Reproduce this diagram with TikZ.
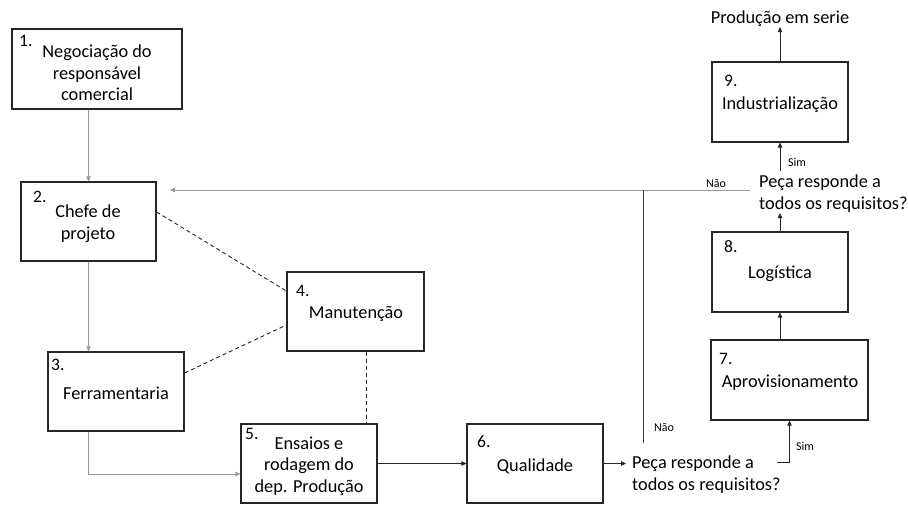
\documentclass[tikz,border=0pt]{standalone}
\usepackage{fontspec}
\setmainfont{Carlito}
\usetikzlibrary{arrows.meta}
\begin{document}
\begin{tikzpicture}[x=1pt,y=-1pt,
  box/.style={draw=black!85, line width=1.2pt, minimum width=136pt, minimum height=79pt, inner sep=0pt},
  num/.style={anchor=base west, inner sep=0pt, font=\fontsize{17.5}{20}\selectfont},
  lbl/.style={inner sep=0pt, align=center, font=\fontsize{18.3}{21.5}\selectfont},
  ask/.style={inner sep=0pt, align=left, anchor=west, font=\fontsize{18.3}{22}\selectfont},
  tag/.style={inner sep=0pt, font=\fontsize{12}{14}\selectfont},
  arr/.style={-{Triangle[length=5pt,width=4.5pt]}, line width=0.8pt, draw=black!85},
  garr/.style={arr, draw=black!40},
  dotline/.style={dashed, dash pattern=on 4pt off 3pt, line width=0.9pt, draw=black!85}
]
\useasboundingbox (0,0) rectangle (908,505);

% boxes
\node[box, minimum width=170pt, minimum height=80pt] (n1) at (97,69) {};
\node[num] (d1) at (19,47) {1.};
\node[lbl] (t1) at (97,73) {Negociação do\\responsável\\comercial};

\node[box, minimum width=135pt] (n2) at (88.5,221.5) {};
\node[num] (d2) at (33,203) {2.};
\node[lbl] (t2) at (88,223.5) {Chefe de\\projeto};

\node[box] (n3) at (116,391.5) {};
\node[num] (d3) at (51,370) {3.};
\node[lbl] (t3) at (116,393) {Ferramentaria};

\node[box, minimum width=137pt] (n4) at (355.5,311.5) {};
\node[num] (d4) at (296,297) {4.};
\node[lbl] (t4) at (356,314) {Manutenção};

\node[box] (n5) at (309,463.5) {};
\node[num] (d5) at (245,439) {5.};
\node[lbl] (t5) at (309,466) {Ensaios e\\rodagem do\\dep. Produção};

\node[box] (n6) at (535,463.5) {};
\node[num] (d6) at (477,447) {6.};
\node[lbl] (t6) at (535,466.5) {Qualidade};

\node[box, minimum width=157pt, minimum height=80pt] (n7) at (789.5,380) {};
\node[num] (d7) at (719,364) {7.};
\node[lbl] (t7) at (790,382.5) {Aprovisionamento};

\node[box, minimum height=80pt] (n8) at (780,272) {};
\node[num] (d8) at (724,253) {8.};
\node[lbl] (t8) at (780,274) {Logística};

\node[box, minimum height=80pt] (n9) at (780,102) {};
\node[num] (d9) at (724,87) {9.};
\node[lbl] (t9) at (780,104.5) {Industrialização};

\node[lbl] (out) at (780,19) {Produção em serie};

% decision texts
\node[ask] (q1) at (632,474.5) {Peça responde a\\todos os requisitos?};
\node[ask] (q2) at (759,194) {Peça responde a\\todos os requisitos?};

% helper points
\coordinate (q1in) at (626,463.5);
\coordinate (nao) at (643,443);
\coordinate (back) at (170,190);
\coordinate (nj) at (750,190);
\coordinate (s1) at (777,462);

% flow
\draw[garr] (n1.south -| n2.north) -- (n2.north);
\draw[garr] (n2.south) -- (n2.south |- n3.north);
\draw[garr] (n2.south |- n3.south) |- ([yshift=-10.5pt]n5.west);
\draw[arr] (n5.east) -- (n6.west);
\draw[arr] (n6.east) -- (q1in);
\draw[garr] (nj) -- (back);
\draw[line width=1pt, black!75] (nao) -- (nao |- back);
\draw[arr] (s1) -| (n7.south);
\draw[arr] (n7.north -| n8.south) -- (n8.south);
\draw[arr] (n8.north) -- (n8.north |- q2.south);
\draw[arr] ([yshift=4pt]n9.south |- q2.north) -- (n9.south);
\draw[arr] (n9.north) -- (out.south);

% dashed links to maintenance
\draw[dotline] ([yshift=9.5pt]n2.east) -- ([yshift=20.5pt]n4.west);
\draw[dotline] ([yshift=18.5pt]n3.east) -- ([yshift=-13.5pt]n4.west);
\draw[dotline] ([xshift=10.5pt]n4.south) -- ([xshift=10.5pt]n4.south |- n5.north);

% branch labels
\node[tag] (nao1) at (716,184) {Não};
\node[tag] (nao2) at (664,428) {Não};
\node[tag] (sim1) at (805,446) {Sim};
\node[tag] (sim2) at (797,162) {Sim};
\end{tikzpicture}
\end{document}
